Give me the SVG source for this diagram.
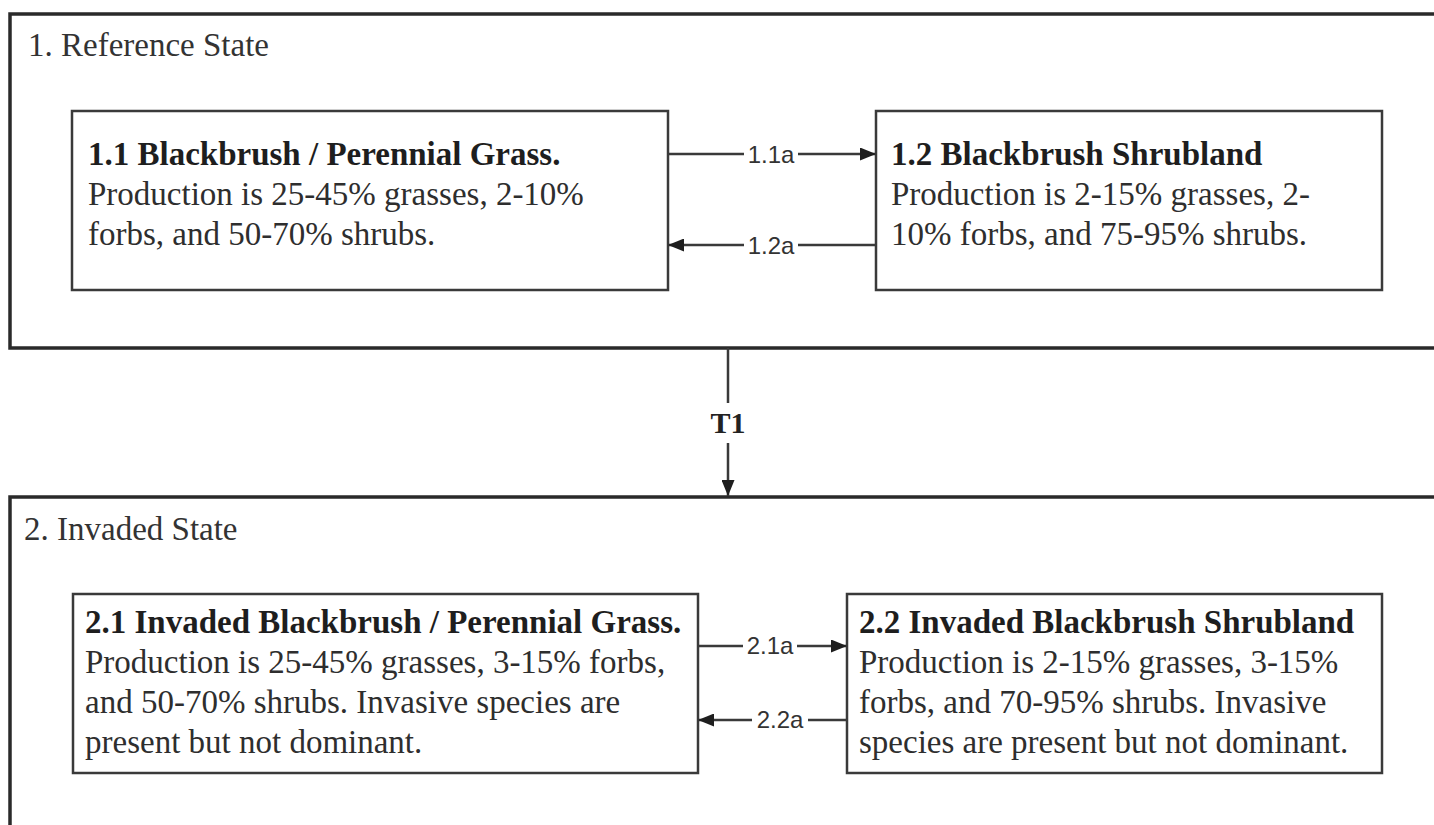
<svg xmlns="http://www.w3.org/2000/svg" width="1434" height="825" viewBox="0 0 1434 825">
<style>
.state{fill:none;stroke:#2a2a2a;stroke-width:3.5}
.box{fill:#fff;stroke:#3a3a3a;stroke-width:2.5}
.st{font-family:"Liberation Serif","Times New Roman",serif;font-size:33px;fill:#333}
.b{font-family:"Liberation Serif","Times New Roman",serif;font-size:33px;font-weight:bold;fill:#1e1e1e}
.t{font-family:"Liberation Serif","Times New Roman",serif;font-size:33px;fill:#2e2e2e}
.conn{fill:none;stroke:#3a3a3a;stroke-width:2.5}
.lbl{font-family:"Liberation Sans",Arial,sans-serif;font-size:24px;fill:#333;text-anchor:middle}
.tl{font-family:"Liberation Serif","Times New Roman",serif;font-size:30px;font-weight:bold;fill:#222;text-anchor:middle}
</style>
<defs>
<marker id="ah" markerUnits="userSpaceOnUse" markerWidth="16" markerHeight="13" viewBox="0 0 16 13" refX="16" refY="6.5" orient="auto">
<path d="M0,0 L16,6.5 L0,13 z" fill="#1e1e1e"/>
</marker>
</defs>
<rect width="1434" height="825" fill="#fff"/>
<g id="state1">
<path class="state" d="M1440,14 H10 V348 H1440"/>
<text class="st" x="28" y="56">1. Reference State</text>
</g>
<g id="state2">
<path class="state" d="M1440,497 H10 V830"/>
<text class="st" x="24" y="540">2. Invaded State</text>
</g>
<g id="n11">
<rect class="box" x="72" y="111" width="596" height="179"/>
<text class="b" x="88" y="165">1.1 Blackbrush / Perennial Grass.</text>
<text class="t" x="88" y="205">Production is 25-45% grasses, 2-10%</text>
<text class="t" x="88" y="245">forbs, and 50-70% shrubs.</text>
</g>
<g id="n12">
<rect class="box" x="876" y="111" width="506" height="179"/>
<text class="b" x="891" y="165">1.2 Blackbrush Shrubland</text>
<text class="t" x="891" y="205">Production is 2-15% grasses, 2-</text>
<text class="t" x="891" y="245">10% forbs, and 75-95% shrubs.</text>
</g>
<g id="n21">
<rect class="box" x="73" y="594" width="625" height="179"/>
<text class="b" x="85" y="633">2.1 Invaded Blackbrush / Perennial Grass.</text>
<text class="t" x="85" y="673">Production is 25-45% grasses, 3-15% forbs,</text>
<text class="t" x="85" y="713">and 50-70% shrubs. Invasive species are</text>
<text class="t" x="85" y="753">present but not dominant.</text>
</g>
<g id="n22">
<rect class="box" x="847" y="594" width="535" height="179"/>
<text class="b" x="859" y="633">2.2 Invaded Blackbrush Shrubland</text>
<text class="t" x="859" y="673">Production is 2-15% grasses, 3-15%</text>
<text class="t" x="859" y="713">forbs, and 70-95% shrubs. Invasive</text>
<text class="t" x="859" y="753">species are present but not dominant.</text>
</g>
<g id="connectors">
<path class="conn" d="M668,154 H744 M798,154 H876" marker-end="url(#ah)"/>
<text class="lbl" x="771" y="163">1.1a</text>
<path class="conn" d="M876,245 H798 M744,245 H668" marker-end="url(#ah)"/>
<text class="lbl" x="771" y="254">1.2a</text>
<path class="conn" d="M728,348 V403 M728,443 V496" marker-end="url(#ah)"/>
<text class="tl" x="728" y="433">T1</text>
<path class="conn" d="M698,646 H743 M797,646 H847" marker-end="url(#ah)"/>
<text class="lbl" x="770" y="654">2.1a</text>
<path class="conn" d="M847,720 H808 M752,720 H698" marker-end="url(#ah)"/>
<text class="lbl" x="780" y="728">2.2a</text>
</g>
</svg>
